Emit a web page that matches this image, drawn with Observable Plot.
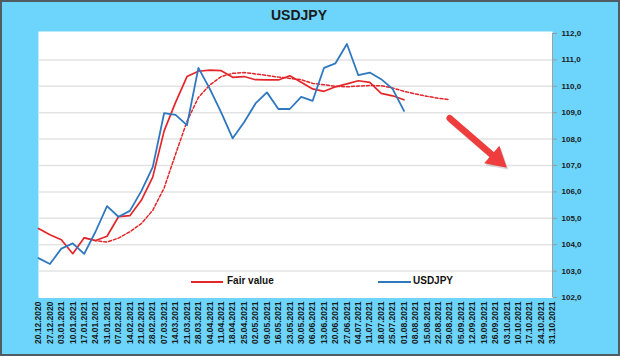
<!DOCTYPE html>
<html><head><meta charset="utf-8">
<script src="https://cdn.jsdelivr.net/npm/d3@7"></script>
<script src="https://cdn.jsdelivr.net/npm/@observablehq/plot@0.6"></script>
<style>
html,body{margin:0;padding:0;background:#eef0f1;}
#wrap{position:relative;width:620px;height:356px;box-sizing:border-box;border:2px solid #4f5d63;background:#6dd4fb;overflow:hidden;font-family:"Liberation Sans",Arial,sans-serif;}
#title{position:absolute;left:0;top:5px;width:594px;text-align:center;font-weight:bold;font-size:14px;color:#1b1b1b;}
#chart{position:absolute;left:0;top:22px;}
.leg{position:absolute;font-size:10px;font-weight:bold;color:#111;line-height:12px;white-space:nowrap;}
.sw{position:absolute;height:2px;}
</style></head><body>
<div id="wrap">
  <div id="title">USDJPY</div>
  <div id="chart"></div>
  <div class="sw" style="left:189px;top:279px;width:32px;background:#e4262b"></div>
  <div class="leg" style="left:225px;top:273px">Fair value</div>
  <div class="sw" style="left:376px;top:279px;width:33px;background:#2f78c0"></div>
  <div class="leg" style="left:411px;top:273px">USDJPY</div>
</div>
<script>
const xLabels = ["20.12.2020","27.12.2020","03.01.2021","10.01.2021","17.01.2021","24.01.2021","31.01.2021","07.02.2021","14.02.2021","21.02.2021","28.02.2021","07.03.2021","14.03.2021","21.03.2021","28.03.2021","04.04.2021","11.04.2021","18.04.2021","25.04.2021","02.05.2021","09.05.2021","16.05.2021","23.05.2021","30.05.2021","06.06.2021","13.06.2021","20.06.2021","27.06.2021","04.07.2021","11.07.2021","18.07.2021","25.07.2021","01.08.2021","08.08.2021","15.08.2021","22.08.2021","29.08.2021","05.09.2021","12.09.2021","19.09.2021","26.09.2021","03.10.2021","10.10.2021","17.10.2021","24.10.2021","31.10.2021"];

const usdjpy = [103.49,103.27,103.85,104.05,103.65,104.50,105.46,105.06,105.28,106.03,106.94,108.98,108.92,108.53,110.70,109.90,109.00,108.03,108.64,109.35,109.77,109.14,109.14,109.60,109.45,110.70,110.87,111.60,110.42,110.52,110.27,109.90,109.07];

const fairValue = [104.61,104.38,104.19,103.66,104.26,104.16,104.32,105.06,105.10,105.68,106.56,108.31,109.39,110.37,110.57,110.61,110.59,110.34,110.37,110.25,110.24,110.24,110.40,110.15,109.90,109.81,109.98,110.09,110.21,110.15,109.73,109.64,109.49];

const fairTrend = [null,null,null,null,104.26,104.15,104.10,104.25,104.49,104.80,105.30,106.15,107.43,108.67,109.58,110.05,110.37,110.49,110.52,110.47,110.41,110.35,110.30,110.25,110.11,110.06,110.00,109.98,110.01,110.03,110.02,109.94,109.81,109.71,109.62,109.55,109.49];

const yTicks = [102,103,104,105,106,107,108,109,110,111,112];
const gridValues = [103,104,105,106,107,108,109,110,111];

const arrowFrom = ["29.08.2021", 108.79];
const arrowTo = ["03.10.2021", 106.92];

const rows = xLabels.map((d, i) => ({
  date: d,
  usd: usdjpy[i] ?? null,
  fair: fairValue[i] ?? null,
  trend: fairTrend[i] ?? null
}));
const arrowRows = [{x1: arrowFrom[0], y1: arrowFrom[1], x2: arrowTo[0], y2: arrowTo[1]}];

const red = "#e4262b", blue = "#2f78c0", arrowRed = "#ef3d3d";

const chart = Plot.plot({
  width: 616, height: 330,
  marginLeft: 36, marginRight: 66, marginTop: 9, marginBottom: 57,
  style: {background: "transparent", overflow: "visible", color: "#1a1a1a", fontFamily: "'Liberation Sans', Arial, sans-serif"},
  x: {type: "point", domain: xLabels, padding: 0, round: false},
  y: {domain: [102, 112]},
  marks: [
    Plot.frame({fill: "white", stroke: null, insetTop: -2, insetBottom: -0.5}),
    Plot.ruleY(gridValues, {stroke: "#e3e3e3", strokeWidth: 1.5}),
    Plot.ruleX([xLabels[xLabels.length - 1]], {stroke: "#a0a0a0", strokeWidth: 1}),
    Plot.axisY({anchor: "right", ticks: yTicks, tickFormat: d => d.toFixed(1).replace(".", ","), tickSize: 4, tickPadding: 5, fontSize: 8, fontWeight: "bold", stroke: "#999", fill: "#1a1a1a", label: null}),
    Plot.axisX({tickRotate: -90, tickSize: 0, tickPadding: 4, fontSize: 8.5, fontWeight: "bold", fill: "#1a1a1a", label: null}),
    Plot.line(rows, {x: "date", y: "trend", stroke: red, strokeWidth: 1.5, strokeDasharray: "3,2"}),
    Plot.line(rows, {x: "date", y: "fair", stroke: red, strokeWidth: 1.7}),
    Plot.line(rows, {x: "date", y: "usd", stroke: blue, strokeWidth: 1.8}),
    Plot.arrow(arrowRows, {x1: "x1", y1: "y1", x2: "x2", y2: "y2", headLength: 0, insetEnd: 12, strokeWidth: 6.5, stroke: "rgba(0,0,0,0.15)", strokeLinecap: "round", dx: 1.5, dy: 2}),
    Plot.dot(arrowRows, {x: "x2", y: "y2", symbol: "triangle", r: 8.6, fill: "rgba(0,0,0,0.15)", stroke: null, rotate: 131, dx: -8.5, dy: -6.7}),
    Plot.arrow(arrowRows, {x1: "x1", y1: "y1", x2: "x2", y2: "y2", headLength: 0, insetEnd: 12, strokeWidth: 6.5, stroke: arrowRed, strokeLinecap: "round"}),
    Plot.dot(arrowRows, {x: "x2", y: "y2", symbol: "triangle", r: 8.6, fill: arrowRed, stroke: null, rotate: 131, dx: -10, dy: -8.7})
  ]
});
document.getElementById("chart").appendChild(chart);
</script>
</body></html>
